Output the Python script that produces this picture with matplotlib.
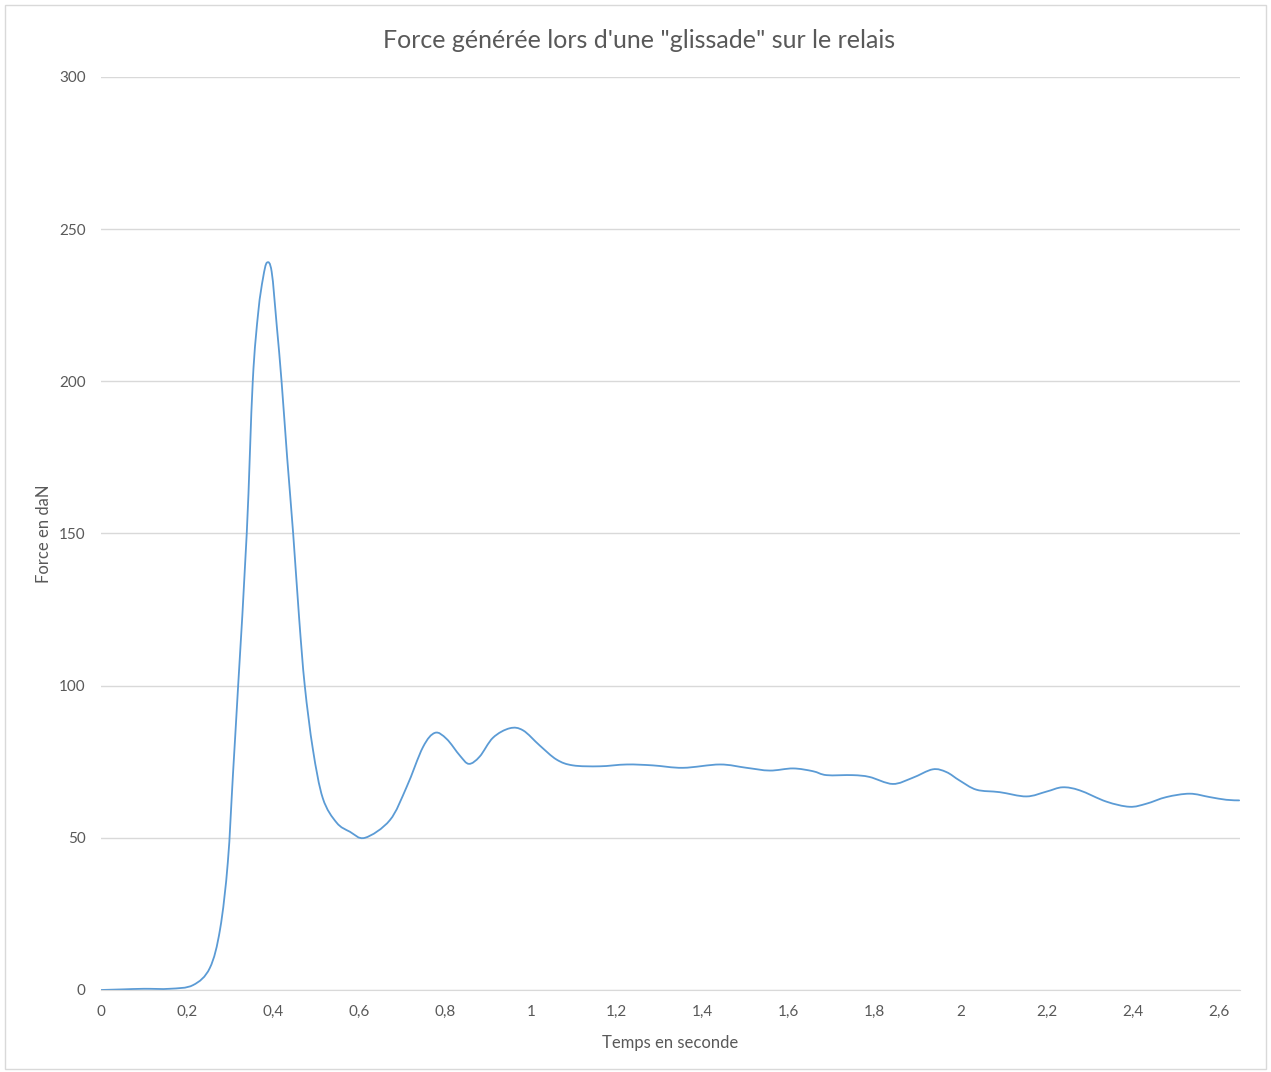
import matplotlib
matplotlib.use("Agg")
import matplotlib.pyplot as plt
import numpy as np
from matplotlib.patches import Rectangle, PathPatch
from matplotlib.path import Path

plt.rcParams['font.family'] = ['Lato', 'DejaVu Sans']

# values
time = [0, 0.05, 0.1, 0.16, 0.214, 0.253, 0.277, 0.295, 0.307, 0.319,
        0.339, 0.353, 0.366, 0.377, 0.386, 0.397, 0.409, 0.42, 0.433, 0.447,
        0.461, 0.474, 0.493, 0.516, 0.548, 0.579, 0.614, 0.672, 0.711,
        0.749, 0.777, 0.804, 0.835, 0.856, 0.881, 0.912, 0.951, 0.982, 1.021,
        1.06, 1.098, 1.16, 1.223, 1.284, 1.354, 1.44, 1.502, 1.556, 1.61,
        1.656, 1.688, 1.749, 1.788, 1.842, 1.888, 1.935, 1.967, 1.998, 2.037,
        2.091, 2.153, 2.2, 2.237, 2.277, 2.339, 2.393, 2.432, 2.479, 2.533,
        2.579, 2.618, 2.648]
force = [0, 0.2, 0.4, 0.4, 1.6, 7.2, 20, 42, 71, 100,
         150, 200, 223, 234, 239, 236, 218, 200, 175, 150,
         122, 100, 79, 63, 55, 52, 50, 55.8, 66.7,
         79.8, 84.5, 82.5, 77, 74.3, 76.7, 82.9, 86, 85.3, 80.3,
         75.7, 73.8, 73.5, 74.1, 73.8, 73.0, 74.1, 73.0, 72.1, 72.8,
         71.9, 70.6, 70.6, 70.0, 67.7, 69.7, 72.5, 71.6, 68.8, 65.8,
         65.0, 63.6, 65.2, 66.6, 65.6, 61.9, 60.2, 61.2, 63.4, 64.5,
         63.4, 62.5, 62.3]

x_ticks = [0, 0.2, 0.4, 0.6, 0.8, 1, 1.2, 1.4, 1.6, 1.8, 2, 2.2, 2.4, 2.6]
x_labels = ["0", "0,2", "0,4", "0,6", "0,8", "1", "1,2", "1,4", "1,6",
            "1,8", "2", "2,2", "2,4", "2,6"]
y_ticks = [0, 50, 100, 150, 200, 250, 300]

text_col = "#595959"
grid_col = "#D9D9D9"


def smooth_path(xs, ys):
    # excel-like smoothed line: bezier segments through every data point
    p = np.column_stack([xs, ys]).astype(float)
    ext = np.vstack([p[0], p, p[-1]])
    verts = [p[0]]
    codes = [Path.MOVETO]
    for i in range(len(p) - 1):
        p0, p1, p2, p3 = ext[i], ext[i + 1], ext[i + 2], ext[i + 3]
        verts += [p1 + (p2 - p0) / 6, p2 - (p3 - p1) / 6, p2]
        codes += [Path.CURVE4] * 3
    return Path(verts, codes)


fig = plt.figure(figsize=(12.71, 10.72), dpi=100)
ax = fig.add_axes([0.0795, 0.0765, 0.8961, 0.8517])

ax.add_patch(PathPatch(smooth_path(time, force), fill=False,
                       edgecolor="#5B9BD5", lw=1.3, capstyle="round",
                       joinstyle="round"))

ax.set_xlim(0, 2.65)
ax.set_ylim(0, 300)
ax.set_xticks(x_ticks)
ax.set_xticklabels(x_labels)
ax.set_yticks(y_ticks)
ax.tick_params(length=0, labelsize=11, colors=text_col)
ax.tick_params(axis="x", pad=11)
ax.tick_params(axis="y", pad=11)
ax.grid(axis="y", color=grid_col, lw=1)
ax.set_axisbelow(True)
for s in ["top", "right", "left"]:
    ax.spines[s].set_visible(False)
ax.spines["bottom"].set_color(grid_col)

ax.set_xlabel("Temps en seconde", fontsize=12, color=text_col, labelpad=11)
ax.set_ylabel("Force en daN", fontsize=12, color=text_col, labelpad=5)
fig.text(0.5025, 0.962, "Force générée lors d'une \"glissade\" sur le relais",
         ha="center", va="center", fontsize=18, color=text_col)

fig.patches.append(Rectangle((0.004, 0.003), 0.992, 0.992, transform=fig.transFigure,
                             fill=False, edgecolor=grid_col, lw=1))

fig.savefig("out.png", dpi=100)
